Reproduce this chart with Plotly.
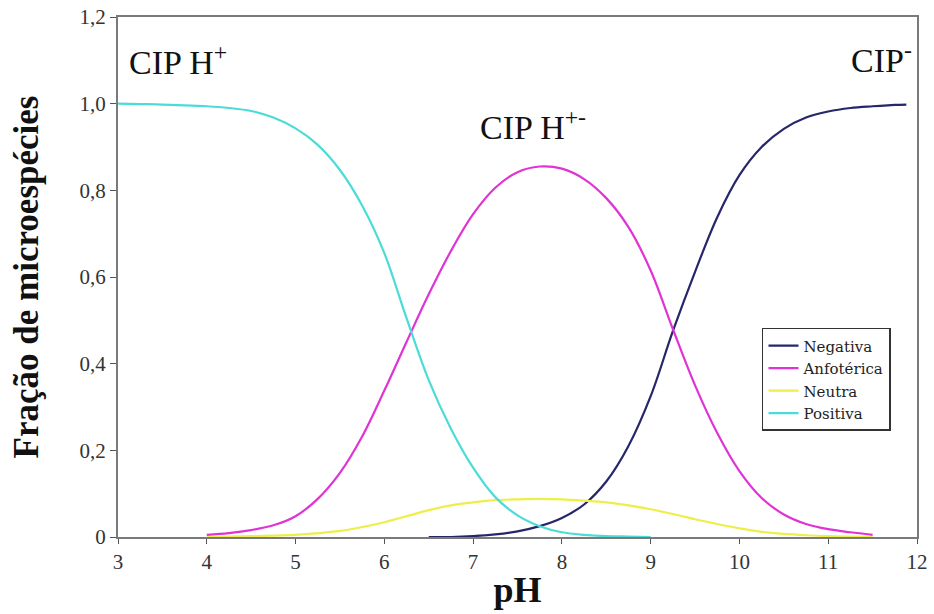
import plotly.graph_objects as go

# Species distribution of ciprofloxacin versus pH
ph_pos = [3.0, 3.25, 3.5, 3.75, 4.0, 4.25, 4.5, 4.75, 5.0, 5.25, 5.5, 5.75, 6.0,
          6.25, 6.5, 6.75, 7.0, 7.25, 7.5, 7.75, 8.0, 8.25, 8.5, 8.75, 9.0]
positiva = [1.0, 0.999, 0.998, 0.996, 0.994, 0.99, 0.983, 0.968, 0.943, 0.905, 0.847,
            0.765, 0.655, 0.505, 0.362, 0.25, 0.16, 0.092, 0.05, 0.025, 0.011, 0.005,
            0.002, 0.001, 0.0]

ph_anf = [4.0, 4.25, 4.5, 4.75, 5.0, 5.25, 5.5, 5.75, 6.0, 6.25, 6.5, 6.75, 7.0,
          7.25, 7.5, 7.75, 8.0, 8.25, 8.5, 8.75, 9.0, 9.25, 9.5, 9.75, 10.0, 10.25,
          10.5, 10.75, 11.0, 11.25, 11.5]
anfoterica = [0.005, 0.009, 0.016, 0.027, 0.048, 0.088, 0.148, 0.232, 0.338, 0.45,
              0.56, 0.66, 0.745, 0.806, 0.842, 0.855, 0.85, 0.826, 0.782, 0.715, 0.615,
              0.48, 0.35, 0.24, 0.152, 0.09, 0.052, 0.03, 0.018, 0.011, 0.005]

ph_neu = [4.0, 4.5, 5.0, 5.5, 5.75, 6.0, 6.25, 6.5, 6.75, 7.0, 7.25, 7.5, 7.75, 8.0,
          8.25, 8.5, 8.75, 9.0, 9.25, 9.5, 9.75, 10.0, 10.25, 10.5, 10.75, 11.0, 11.5]
neutra = [0.0, 0.002, 0.005, 0.014, 0.023, 0.034, 0.048, 0.062, 0.073, 0.08, 0.085,
          0.087, 0.088, 0.087, 0.084, 0.08, 0.073, 0.064, 0.053, 0.041, 0.03, 0.02,
          0.012, 0.007, 0.004, 0.002, 0.0]

ph_neg = [6.5, 6.75, 7.0, 7.25, 7.5, 7.75, 8.0, 8.25, 8.5, 8.75, 9.0, 9.25, 9.5,
          9.75, 10.0, 10.25, 10.5, 10.75, 11.0, 11.25, 11.5, 11.75, 11.88]
negativa = [0.0, 0.0, 0.002, 0.006, 0.013, 0.025, 0.044, 0.075, 0.128, 0.21, 0.325,
            0.475, 0.612, 0.738, 0.835, 0.9, 0.942, 0.968, 0.982, 0.99, 0.994,
            0.997, 0.998]

x_ticks = [3, 4, 5, 6, 7, 8, 9, 10, 11, 12]
y_ticks = [0, 0.2, 0.4, 0.6, 0.8, 1.0, 1.2]
y_tick_text = ["0", "0,2", "0,4", "0,6", "0,8", "1,0", "1,2"]

SERIF = "Liberation Serif"
WIDE_SERIF = "DejaVu Serif"

series = [
    ("Negativa", ph_neg, negativa, "#26266a"),
    ("Anfotérica", ph_anf, anfoterica, "#e033d6"),
    ("Neutra", ph_neu, neutra, "#eeee48"),
    ("Positiva", ph_pos, positiva, "#4cdcd8"),
]

fig = go.Figure()
for name, xs, ys, color in series:
    fig.add_trace(go.Scatter(
        x=xs, y=ys, name=name, mode="lines",
        line=dict(color=color, width=2.2, shape="spline", smoothing=1.0),
    ))

annotations = [
    dict(x=3.1, y=1.1, text="CIP H<sup>+</sup>", xanchor="left", yanchor="middle"),
    dict(x=7.05, y=0.95, text="CIP H<sup>+-</sup>", xanchor="left", yanchor="middle"),
    dict(x=11.97, y=1.105, text="CIP<sup>-</sup>", xanchor="right", yanchor="middle"),
]
for a in annotations:
    fig.add_annotation(showarrow=False, font=dict(family=SERIF, size=34, color="#111111"), **a)

fig.update_layout(
    width=934, height=614,
    paper_bgcolor="white", plot_bgcolor="white",
    margin=dict(l=118, r=17, t=17, b=77),
    font=dict(family=SERIF, color="#333333"),
    legend=dict(
        x=0.806, y=0.402, xanchor="left", yanchor="top",
        bgcolor="white", bordercolor="#333333", borderwidth=1.5,
        font=dict(family=WIDE_SERIF, size=15, color="#222222"),
        tracegroupgap=0, itemwidth=30,
    ),
    showlegend=True,
)
fig.update_xaxes(
    range=[3, 12], tickvals=x_ticks, ticktext=[str(v) for v in x_ticks],
    showgrid=False, zeroline=False, showline=True, mirror=True, automargin=False,
    linecolor="#7a7a7a", linewidth=2, ticks="outside", ticklen=5,
    tickcolor="#555555", tickfont=dict(family=SERIF, size=21, color="#333333"),
    title=dict(text="<b>pH</b>", font=dict(family=SERIF, size=36, color="#111111"), standoff=4),
)
fig.update_yaxes(
    range=[0, 1.2], tickvals=y_ticks, ticktext=y_tick_text,
    showgrid=False, zeroline=False, showline=True, mirror=True, automargin=False,
    linecolor="#7a7a7a", linewidth=2, ticks="outside", ticklen=6,
    tickcolor="#555555", tickfont=dict(family=SERIF, size=21, color="#333333"),
    title=dict(text="<b>Fração de microespécies</b>", font=dict(family=SERIF, size=35, color="#111111"), standoff=30),
)

fig.write_html("out.html")
